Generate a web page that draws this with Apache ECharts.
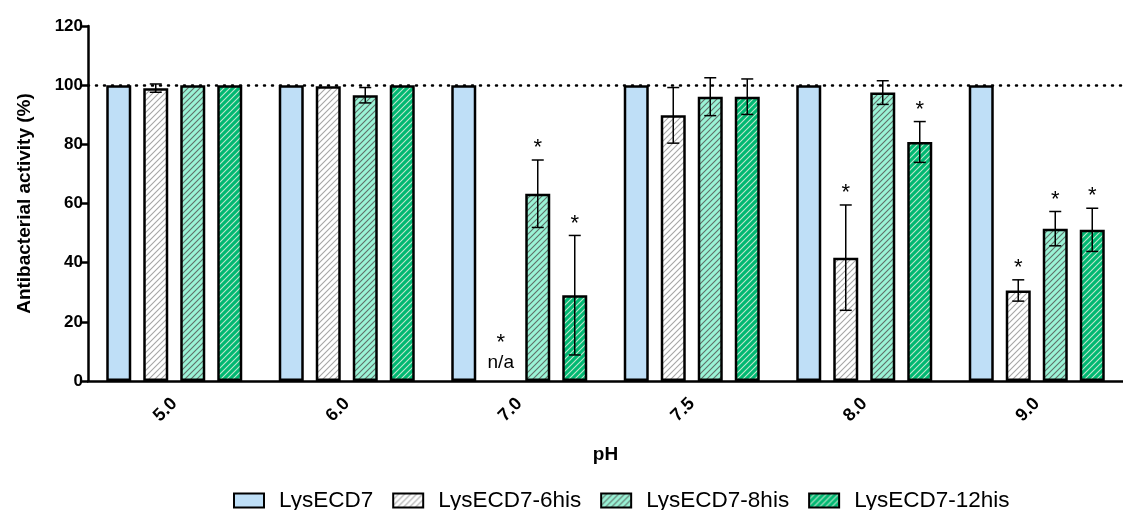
<!DOCTYPE html>
<html>
<head>
<meta charset="utf-8">
<script src="https://cdn.jsdelivr.net/npm/echarts@6/dist/echarts.min.js"></script>
<style>
html, body { margin: 0; padding: 0; background: #fff; }
#chart { width: 1123px; height: 510px; }
</style>
</head>
<body>
<div id="chart"></div>
<script>
// values (% of LysECD7 activity)
const categories = ['5.0', '6.0', '7.0', '7.5', '8.0', '9.0'];
const seriesNames = ['LysECD7', 'LysECD7-6his', 'LysECD7-8his', 'LysECD7-12his'];
const lys7 = [100, 100, 100, 100, 100, 100];
const his6 = [99.0, 99.6, null, 89.8, 41.7, 30.6];
const his6Err = [1.4, 0, 0, 9.4, 17.8, 3.6];
const his8 = [100, 96.6, 63.3, 96.1, 97.5, 51.5];
const his8Err = [0, 2.6, 11.4, 6.4, 4.0, 5.8];
const his12 = [100, 100, 29.0, 96.1, 80.8, 51.1];
const his12Err = [0, 0, 20.2, 6.0, 6.9, 7.3];
// significance marks (*)
const his6Sig = [0, 0, 1, 0, 1, 1];
const his8Sig = [0, 0, 1, 0, 0, 1];
const his12Sig = [0, 0, 1, 0, 1, 1];

const font = 'Liberation Sans, Arial, sans-serif';
const barW = 25;
const pitch = 37;

function hatch(bg, line) {
	const c = document.createElement('canvas');
	c.width = 6; c.height = 6;
	const g = c.getContext('2d');
	g.fillStyle = bg;
	g.fillRect(0, 0, 6, 6);
	g.strokeStyle = line;
	g.lineWidth = 1.1;
	g.beginPath();
	g.moveTo(0, 6); g.lineTo(6, 0);
	g.moveTo(-1, 1); g.lineTo(1, -1);
	g.moveTo(5, 7); g.lineTo(7, 5);
	g.stroke();
	return { image: c, repeat: 'repeat' };
}

const fills = [
	'#BFDFF7',
	hatch('#ffffff', '#a6a6a6'),
	hatch('#9AF3D6', '#5f6f69'),
	hatch('#00B872', '#BFE6CE')
];

const values = [lys7, his6, his8, his12];
const errs = [null, his6Err, his8Err, his12Err];
const sigs = [null, his6Sig, his8Sig, his12Sig];

// [category, series, value, error, significant, n/a]
const errData = [];
for (let s = 1; s < 4; s++) {
	for (let i = 0; i < categories.length; i++) {
		const v = values[s][i];
		errData.push([i, s, v == null ? 0 : v, errs[s][i], sigs[s][i], v == null ? 1 : 0]);
	}
}

const barSeries = seriesNames.map((name, s) => ({
	name: name,
	type: 'bar',
	barWidth: barW,
	barGap: ((pitch - barW) / barW * 100) + '%',
	data: values[s],
	itemStyle: {
		color: fills[s],
		borderColor: '#000',
		borderWidth: 2.5
	},
	z: 2
}));

barSeries[0].markLine = {
	silent: true,
	symbol: 'none',
	z: 1,
	label: { show: false },
	lineStyle: { type: [1, 7], color: '#000', width: 2.5, cap: 'round' },
	data: [{ yAxis: 100 }]
};

const chart = echarts.init(document.getElementById('chart'));
chart.setOption({
	animation: false,
	grid: { left: 88, top: 26, width: 1044, height: 355 },
	legend: {
		data: seriesNames,
		left: 228,
		top: 484,
		icon: 'rect',
		itemWidth: 30,
		itemHeight: 14,
		itemGap: 19,
		textStyle: { fontFamily: font, fontSize: 22.5, color: '#000', padding: [0, 0, 0, 10] }
	},
	xAxis: {
		type: 'category',
		data: categories,
		name: 'pH',
		nameLocation: 'middle',
		nameGap: 64,
		nameTextStyle: { fontFamily: font, fontSize: 19, fontWeight: 'bold', color: '#000' },
		axisLine: { lineStyle: { color: '#000', width: 2.5 } },
		axisTick: { alignWithLabel: true, length: 7, lineStyle: { color: '#000', width: 2.5 } },
		axisLabel: { rotate: 45, margin: 20, fontFamily: font, fontSize: 18, fontWeight: 'bold', color: '#000' }
	},
	yAxis: {
		type: 'value',
		min: 0,
		max: 120,
		interval: 20,
		name: 'Antibacterial activity (%)',
		nameLocation: 'middle',
		nameGap: 54,
		nameTextStyle: { fontFamily: font, fontSize: 19, fontWeight: 'bold', color: '#000' },
		axisLine: { show: true, lineStyle: { color: '#000', width: 2.5 } },
		axisTick: { show: true, length: 7, lineStyle: { color: '#000', width: 2.5 } },
		axisLabel: { margin: 5, fontFamily: font, fontSize: 17, fontWeight: 'bold', color: '#000' },
		splitLine: { show: false }
	},
	series: barSeries.concat([{
		type: 'custom',
		z: 5,
		silent: true,
		data: errData,
		renderItem(params, api) {
			const cat = api.value(0), s = api.value(1), v = api.value(2), e = api.value(3);
			const sig = api.value(4), na = api.value(5);
			const x = api.coord([cat, 0])[0] + (s - 1.5) * pitch;
			const children = [];
			const lineStyle = { stroke: '#000', lineWidth: 1.5 };
			if (na) {
				const y0 = api.coord([cat, 0])[1];
				children.push({ type: 'text', style: { text: 'n/a', x: x, y: y0 - 18, align: 'center', verticalAlign: 'middle', font: '19px ' + font, fill: '#000' } });
				if (sig) children.push({ type: 'text', style: { text: '*', x: x, y: y0 - 38, align: 'center', verticalAlign: 'middle', font: '22px ' + font, fill: '#000' } });
				return { type: 'group', children: children };
			}
			const yTop = api.coord([cat, v + e])[1];
			const yBot = api.coord([cat, v - e])[1];
			if (e > 0) {
				children.push({ type: 'line', shape: { x1: x, y1: yTop, x2: x, y2: yBot }, style: lineStyle });
				children.push({ type: 'line', shape: { x1: x - 6, y1: yTop, x2: x + 6, y2: yTop }, style: lineStyle });
				children.push({ type: 'line', shape: { x1: x - 6, y1: yBot, x2: x + 6, y2: yBot }, style: lineStyle });
			}
			if (sig) {
				children.push({ type: 'text', style: { text: '*', x: x, y: yTop - 12, align: 'center', verticalAlign: 'middle', font: '22px ' + font, fill: '#000' } });
			}
			return { type: 'group', children: children };
		}
	}])
});
</script>
</body>
</html>
